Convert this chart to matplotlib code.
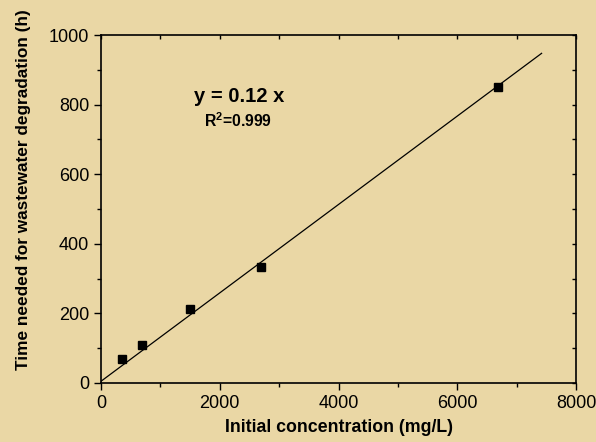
import matplotlib
matplotlib.use("Agg")
import matplotlib.pyplot as plt
import numpy as np
from matplotlib.ticker import MultipleLocator

plt.rcParams['font.family'] = ['Liberation Sans', 'DejaVu Sans']
plt.rcParams['mathtext.fontset'] = 'custom'
plt.rcParams['mathtext.rm'] = 'Liberation Sans'
plt.rcParams['mathtext.bf'] = 'Liberation Sans:bold'

# data
concentration = [348, 696, 1494, 2695, 6686]
time_needed = [68, 109, 212, 334, 850]
fit_slope = 0.127
fit_intercept = 5
fit_x_range = [0, 7420]
x_ticks = [0, 2000, 4000, 6000, 8000]
y_ticks = [0, 200, 400, 600, 800, 1000]

bg = '#EAD7A5'
fig = plt.figure(figsize=(5.96, 4.42), dpi=100, facecolor=bg)
ax = fig.add_axes([0.1695, 0.1335, 0.797, 0.7873], facecolor=bg)

fx = np.array(fit_x_range)
ax.plot(fx, fit_slope * fx + fit_intercept, color='black', lw=0.9)
ax.plot(concentration, time_needed, 's', color='black', markersize=6)

ax.set_xlim(0, 8000)
ax.set_ylim(0, 1000)
ax.set_xticks(x_ticks)
ax.set_yticks(y_ticks)
ax.xaxis.set_minor_locator(MultipleLocator(1000))
ax.yaxis.set_minor_locator(MultipleLocator(100))
ax.tick_params(which='major', direction='out', length=5, width=1, labelsize=13,
               top=True, right=True)
ax.tick_params(which='minor', direction='out', length=3, width=1, top=True, right=True)
for t in ax.xaxis.get_major_ticks() + ax.xaxis.get_minor_ticks():
    t.tick2line.set_marker(matplotlib.lines.TICKDOWN)
    t.tick2line.set_markersize(3)
for t in ax.yaxis.get_major_ticks() + ax.yaxis.get_minor_ticks():
    t.tick2line.set_marker(matplotlib.lines.TICKLEFT)
    t.tick2line.set_markersize(3)
for s in ax.spines.values():
    s.set_linewidth(1.2)

ax.set_xlabel('Initial concentration (mg/L)', fontsize=12.8, fontweight='bold')
ax.xaxis.set_label_coords(0.5, -0.103)
ax.set_ylabel('Time needed for wastewater degradation (h)', fontsize=12.4, fontweight='bold')
ax.yaxis.set_label_coords(-0.147, 0.555)

ax.text(2330, 822, 'y = 0.12 x', fontsize=14.5, fontweight='bold', ha='center', va='center')
ax.text(2300, 753, r'R$^{\mathbf{2}}$=0.999', fontsize=11.3, fontweight='bold', ha='center', va='center')

fig.savefig('out.png', dpi=100, facecolor=bg)
